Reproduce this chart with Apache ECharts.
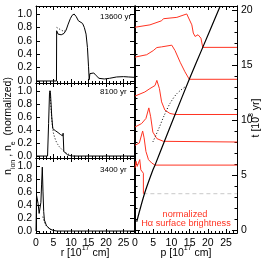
<!DOCTYPE html>
<html><head><meta charset="utf-8">
<script src="https://cdn.jsdelivr.net/npm/echarts@6/dist/echarts.min.js"></script>
<style>html,body{margin:0;padding:0;background:#fff}#c{width:266px;height:266px}</style>
</head><body><div id="c"></div>
<script>
// ---------- data: left panels (r [1e17 cm], normalized density) ----------
const panelAges = ['13600 yr', '8100 yr', '3400 yr'];
const xTickValues = [0, 5, 10, 15, 20, 25];
const yTickValues = [0, 0.2, 0.4, 0.6, 0.8, 1.0];
const tTickValues = [0, 5, 10, 15, 20];

const solid13600 = [[0,0],[5.85,0],[5.9,0.75],[6.3,0.70],[7.2,0.69],[8.0,0.71],[8.6,0.76],[9.2,0.85],[9.8,0.93],[10.3,0.98],[10.9,1.0],[11.5,0.96],[12.1,0.90],[12.6,0.88],[13.3,0.86],[13.8,0.80],[14.3,0.70],[14.7,0.50],[15.0,0.22],[15.2,0.02],[15.4,0.11],[15.8,0.13],[16.5,0.12],[17.2,0.08],[18.0,0.04],[19.5,0.03],[21,0.04],[23,0.06],[25,0.065],[26.5,0.06],[28,0.055]];
const dotted13600 = [[5.9,0.80],[6.4,0.78],[7.2,0.76],[8.0,0.74],[8.6,0.77]];

const solid8100 = [[0,0],[3.3,0],[3.6,0.5],[3.85,0.95],[4.0,1.0],[4.15,0.95],[4.5,0.6],[4.8,0.42],[5.5,0.39],[6.3,0.36],[7.0,0.33],[7.6,0.31],[7.75,0.35],[7.85,0.35],[7.95,0.07],[8.4,0.04],[9.0,0.02],[9.6,0.008],[10.5,0],[28,0]];
const dotted8100 = [[4.0,1.0],[4.3,0.72],[4.6,0.5],[4.95,0.36],[5.3,0.29],[5.7,0.23],[6.2,0.18],[6.7,0.14],[7.2,0.11],[7.8,0.08],[8.5,0.05],[9.2,0.03],[10.0,0.015],[11,0.005]];

const solid3400 = [[0,0],[0.1,0.0],[0.15,0.55],[0.4,0.52],[0.6,0.42],[0.9,0.27],[1.1,0.30],[1.4,0.44],[1.6,0.72],[1.8,0.98],[1.9,1.0],[2.0,0.6],[2.2,0.3],[2.4,0.17],[3.0,0.08],[4.0,0.03],[4.9,0.01],[6,0],[28,0]];
const dotted3400 = [[1.95,0.22],[2.2,0.17],[2.6,0.11],[3.1,0.07],[3.6,0.04],[4.3,0.02],[5.0,0.01]];

// ---------- data: right panel ----------
// shock radius p [1e17 cm] vs t [1e3 yr]
const shockP = [0.47, 2.6, 4.9, 5.5, 8.0, 11.0, 14.9, 18.6, 23.4];
const shockT = [0.75, 3.3, 5.45, 5.9, 8.0, 10.5, 13.7, 16.6, 20.36];
const dotP = [4.9, 6.5, 8.0, 9.6, 11.5, 13.7];
const dotT = [8.0, 9.2, 10.4, 11.5, 12.4, 13.0];

// Halpha profiles: baseline time, p positions, normalized brightness
const profileTimes = [16.6, 13.7, 10.5, 8.0, 5.9, 3.3];
const profileP = [
  [0, 4.1, 7.3, 7.8, 8.2, 11.5, 14.2, 14.6, 15.6, 16.0, 16.5, 17.3, 18.1, 18.6],
  [0, 3.2, 5.0, 6.0, 7.3, 10.1, 11.0, 12.4, 13.7, 14.9],
  [0, 2.7, 4.1, 5.5, 6.0, 6.7, 7.3, 8.2, 9.6, 11.0],
  [0, 1.8, 3.0, 3.8, 4.3, 4.9, 6.0, 7.8, 8.0],
  [0, 1.2, 2.1, 2.5, 3.0, 3.7, 4.6, 5.5],
  [0, 0.3, 0.6, 1.0, 1.3, 1.6, 2.0, 2.3, 2.3]
];
const profileV = [
  [0.59, 0.66, 0.78, 0.84, 0.81, 0.88, 0.98, 1.0, 0.66, 0.42, 0.32, 0.37, 0.27, 0],
  [0.65, 0.72, 0.84, 0.93, 0.95, 1.0, 0.84, 0.50, 0.22, 0],
  [0.54, 0.66, 0.76, 0.85, 1.0, 0.76, 0.37, 0.13, 0.03, 0],
  [0.44, 0.54, 0.69, 1.0, 0.74, 0.29, 0.10, 0.02, 0],
  [0.58, 0.65, 1.0, 0.80, 0.40, 0.16, 0.06, 0],
  [0.75, 0.95, 0.8, 0.85, 1.0, 0.7, 0.65, 0.6, 0]
];
const profileScale = 3.1;
const pMax = 28;

// ---------- styles ----------
const FONT = '"Liberation Sans", Arial, Helvetica, sans-serif';
const RED = '#ff3322';
const BLACK = '#000';

const grids = [
  {left: 36, top: 6, width: 98, height: 77},
  {left: 36, top: 83, width: 98, height: 75},
  {left: 36, top: 158, width: 98, height: 75},
  {left: 135, top: 6, width: 102, height: 227}
];

const xAxes = [], yAxes = [], series = [];
const lineAx = {show: true, onZero: false, lineStyle: {color: BLACK, width: 1}};

function addX(g, pos, labels, min, max) {
  xAxes.push({
    type: 'value', gridIndex: g, position: pos, min: min, max: max, interval: 5,
    axisLine: lineAx,
    axisTick: {show: true, inside: true, length: 4, lineStyle: {color: BLACK}},
    minorTick: {show: true, splitNumber: 5, length: 2, lineStyle: {color: BLACK}},
    splitLine: {show: false}, minorSplitLine: {show: false},
    axisLabel: {show: labels, color: BLACK, fontSize: 10.5, fontFamily: FONT, margin: 5,
      formatter: v => (Math.abs(v % 5) < 1e-6 && v <= 25) ? String(v) : ''}
  });
  return xAxes.length - 1;
}
function addY(g, pos, labels, min, max, ticks, fmt, len) {
  yAxes.push({
    type: 'value', gridIndex: g, position: pos, min: min, max: max,
    axisLine: lineAx,
    axisTick: {show: true, inside: true, length: len, customValues: ticks, lineStyle: {color: BLACK}},
    splitLine: {show: false},
    axisLabel: {show: labels, customValues: ticks, color: BLACK, fontSize: 10.5, fontFamily: FONT, margin: 4, formatter: fmt}
  });
  return yAxes.length - 1;
}

const yMin = -0.03, yMax = 1.12;
const leftSolids = [solid13600, solid8100, solid3400];
const leftDots = [dotted13600, dotted8100, dotted3400];
for (let g = 0; g < 3; g++) {
  const xb = addX(g, 'bottom', g === 2, 0, pMax);
  addX(g, 'top', false, 0, pMax);
  const yl = addY(g, 'left', true, yMin, yMax, yTickValues, v => v.toFixed(1), 4);
  addY(g, 'right', false, yMin, yMax, yTickValues, v => '', 4);
  series.push({type: 'line', xAxisIndex: xb, yAxisIndex: yl, data: leftSolids[g], showSymbol: false, silent: true,
    lineStyle: {color: BLACK, width: 1}});
  series.push({type: 'line', xAxisIndex: xb, yAxisIndex: yl, data: leftDots[g], showSymbol: false, silent: true,
    lineStyle: {color: BLACK, width: 1, type: [1, 2]}});
}

// right panel
const tMin = -0.27, tMax = 20.36;
const tMinor = [];
for (let t = 1; t <= 20; t++) if (t % 5 !== 0) tMinor.push(t);
const xr = addX(3, 'bottom', true, 0, pMax);
addX(3, 'top', false, 0, pMax);
const yr = addY(3, 'right', true, tMin, tMax, tTickValues, v => String(v), 5);
addY(3, 'left', false, tMin, tMax, tTickValues, v => '', 5);
addY(3, 'right', false, tMin, tMax, tMinor, v => '', 2.5);
addY(3, 'left', false, tMin, tMax, tMinor, v => '', 2.5);

// gray dashed baseline for earliest profile
const lastI = profileTimes.length - 1;
series.push({type: 'line', xAxisIndex: xr, yAxisIndex: yr, showSymbol: false, silent: true,
  data: [[profileP[lastI][profileP[lastI].length - 1], profileTimes[lastI]], [pMax, profileTimes[lastI]]],
  lineStyle: {color: '#c8c8c8', width: 1, type: [4, 3]}});

profileTimes.forEach((t0, i) => {
  const d = profileP[i].map((p, k) => [p, t0 + profileScale * profileV[i][k]]);
  if (i !== lastI) d.push([pMax, t0]);
  series.push({type: 'line', xAxisIndex: xr, yAxisIndex: yr, data: d, showSymbol: false, silent: true,
    lineStyle: {color: RED, width: 1}});
});
series.push({type: 'line', xAxisIndex: xr, yAxisIndex: yr, showSymbol: false, silent: true, smooth: 0.3,
  data: shockP.map((p, k) => [p, shockT[k]]), lineStyle: {color: BLACK, width: 1.2}});
series.push({type: 'line', xAxisIndex: xr, yAxisIndex: yr, showSymbol: false, silent: true, smooth: 0.3,
  data: dotP.map((p, k) => [p, dotT[k]]), lineStyle: {color: BLACK, width: 1, type: [1, 2]}});

// ---------- text ----------
const supRich = {
  n: {fontSize: 10.5, fontFamily: FONT, color: BLACK, lineHeight: 14, verticalAlign: 'bottom'},
  s: {fontSize: 7, fontFamily: FONT, color: BLACK, lineHeight: 8, verticalAlign: 'top'}
};
const subRich = {
  n: {fontSize: 10.5, fontFamily: FONT, color: BLACK, lineHeight: 14, verticalAlign: 'top'},
  s: {fontSize: 7, fontFamily: FONT, color: BLACK, lineHeight: 8, verticalAlign: 'bottom'}
};
const graphic = [];
const ageY = [17, 92, 170];
panelAges.forEach((a, i) => graphic.push({type: 'text', x: 100, y: ageY[i],
  style: {text: a, fill: BLACK, fontSize: 8, fontFamily: FONT, align: 'left', verticalAlign: 'middle'}}));
graphic.push({type: 'text', x: 85, y: 252, style: {text: '{n|r [10}{s|17}{n| cm]}', rich: supRich, align: 'center', verticalAlign: 'middle'}});
graphic.push({type: 'text', x: 186, y: 252, style: {text: '{n|p [10}{s|17}{n| cm]}', rich: supRich, align: 'center', verticalAlign: 'middle'}});
graphic.push({type: 'text', x: 255, y: 118, rotation: Math.PI / 2,
  style: {text: '{n|t [10}{s|3}{n| yr]}', rich: supRich, align: 'center', verticalAlign: 'middle'}});
graphic.push({type: 'text', x: 10, y: 126, rotation: Math.PI / 2,
  style: {text: '{n|n}{s|ion}{n| , n}{s|e}{n|  (normalized)}', rich: subRich, align: 'center', verticalAlign: 'middle'}});
graphic.push({type: 'text', x: 185, y: 214, style: {text: 'normalized', fill: RED, fontSize: 9.2, fontFamily: FONT, align: 'center', verticalAlign: 'middle'}});
graphic.push({type: 'text', x: 186, y: 223.5, style: {text: 'Hα surface brightness', fill: RED, fontSize: 9.2, fontFamily: FONT, align: 'center', verticalAlign: 'middle'}});

const chart = echarts.init(document.getElementById('c'), null, {renderer: 'canvas'});
chart.setOption({
  animation: false,
  backgroundColor: '#fff',
  grid: grids,
  xAxis: xAxes,
  yAxis: yAxes,
  series: series,
  graphic: graphic
});
</script></body></html>
